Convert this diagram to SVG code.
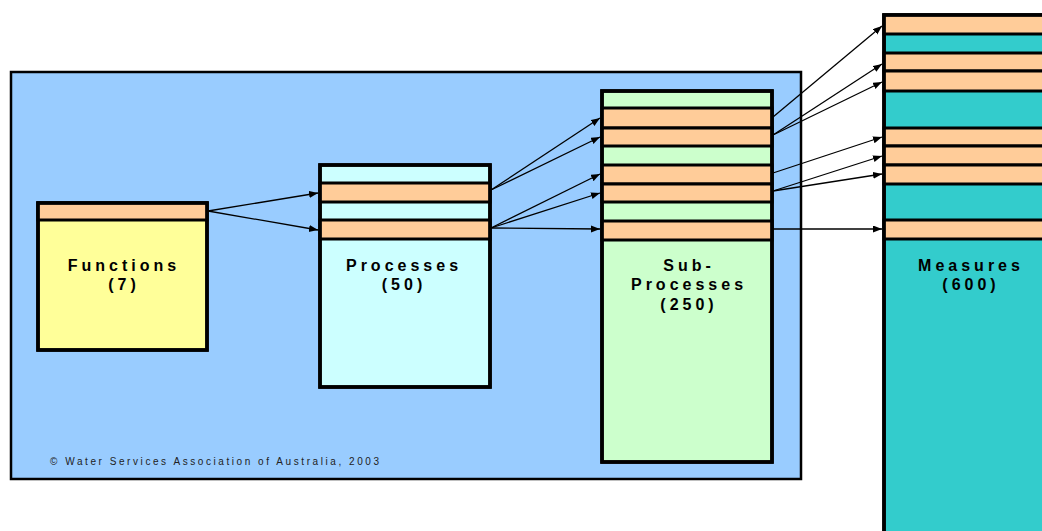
<svg xmlns="http://www.w3.org/2000/svg" width="1042" height="531" viewBox="0 0 1042 531">
<defs>
<style>
.box{stroke:#000;stroke-width:3.5}
.band{stroke:#000;stroke-width:3}
.lbl{font-family:"Liberation Sans",Arial,sans-serif;font-weight:bold;font-size:16px;letter-spacing:4px;fill:#000;text-anchor:middle}
.conn line{stroke:#000;stroke-width:1.3;fill:none;marker-end:url(#ah)}
</style>
<marker id="ah" markerUnits="userSpaceOnUse" markerWidth="10" markerHeight="8" refX="9" refY="3.5" orient="auto">
<path d="M0,0 L9,3.5 L0,7 z" fill="#000"/>
</marker>
</defs>
<rect width="1042" height="531" fill="#fff"/>
<g id="frame">
<rect x="11" y="72" width="790" height="407" fill="#99CCFF" stroke="#000" stroke-width="2.5"/>
<text x="50" y="465" font-family="'Liberation Sans',Arial,sans-serif" font-size="10" fill="#222" textLength="329" lengthAdjust="spacing">© Water Services Association of Australia, 2003</text>
</g>
<g id="functions">
<rect class="box" x="38" y="203" width="169" height="147" fill="#FFFF99"/>
<rect class="band" x="38" y="203" width="169" height="17" fill="#FFCC99"/>
<rect x="38" y="203" width="169" height="147" fill="none" stroke="#000" stroke-width="3.5"/>
<text class="lbl" x="124" y="271">Functions</text>
<text class="lbl" x="124" y="290">(7)</text>
</g>
<g id="processes">
<rect class="box" x="320" y="165" width="170" height="222" fill="#CCFFFF"/>
<rect class="band" x="320" y="183" width="170" height="19" fill="#FFCC99"/>
<rect class="band" x="320" y="220" width="170" height="19" fill="#FFCC99"/>
<rect x="320" y="165" width="170" height="222" fill="none" stroke="#000" stroke-width="3.5"/>
<text class="lbl" x="404" y="271">Processes</text>
<text class="lbl" x="404" y="290">(50)</text>
</g>
<g id="subprocesses">
<rect class="box" x="602" y="91" width="170" height="371" fill="#CCFFCC"/>
<rect class="band" x="602" y="108" width="170" height="20" fill="#FFCC99"/>
<rect class="band" x="602" y="128" width="170" height="18" fill="#FFCC99"/>
<rect class="band" x="602" y="165" width="170" height="19" fill="#FFCC99"/>
<rect class="band" x="602" y="184" width="170" height="18" fill="#FFCC99"/>
<rect class="band" x="602" y="221" width="170" height="19" fill="#FFCC99"/>
<rect x="602" y="91" width="170" height="371" fill="none" stroke="#000" stroke-width="3.5"/>
<text class="lbl" x="689" y="271">Sub-</text>
<text class="lbl" x="689" y="290">Processes</text>
<text class="lbl" x="689" y="310">(250)</text>
</g>
<g id="measures">
<rect class="box" x="884" y="15" width="170" height="530" fill="#33CCCC"/>
<rect class="band" x="884" y="15" width="170" height="19" fill="#FFCC99"/>
<rect class="band" x="884" y="53" width="170" height="18" fill="#FFCC99"/>
<rect class="band" x="884" y="71" width="170" height="20" fill="#FFCC99"/>
<rect class="band" x="884" y="128" width="170" height="18" fill="#FFCC99"/>
<rect class="band" x="884" y="146" width="170" height="19" fill="#FFCC99"/>
<rect class="band" x="884" y="165" width="170" height="19" fill="#FFCC99"/>
<rect class="band" x="884" y="220" width="170" height="19" fill="#FFCC99"/>
<rect x="884" y="15" width="170" height="530" fill="none" stroke="#000" stroke-width="3.5"/>
<text class="lbl" x="971" y="271">Measures</text>
<text class="lbl" x="971" y="290">(600)</text>
</g>
<g id="connectors" class="conn">
<line x1="208" y1="211" x2="318" y2="193"/>
<line x1="208" y1="211" x2="318" y2="230"/>
<line x1="491" y1="190" x2="600" y2="118"/>
<line x1="491" y1="190" x2="600" y2="137"/>
<line x1="491" y1="228" x2="600" y2="174"/>
<line x1="491" y1="228" x2="600" y2="193"/>
<line x1="491" y1="228" x2="600" y2="229"/>
<line x1="773" y1="117" x2="882" y2="26"/>
<line x1="773" y1="135" x2="882" y2="64"/>
<line x1="773" y1="135" x2="882" y2="82"/>
<line x1="773" y1="173" x2="882" y2="137"/>
<line x1="773" y1="191" x2="882" y2="156"/>
<line x1="773" y1="191" x2="882" y2="174"/>
<line x1="773" y1="229" x2="882" y2="229"/>
</g>
</svg>
